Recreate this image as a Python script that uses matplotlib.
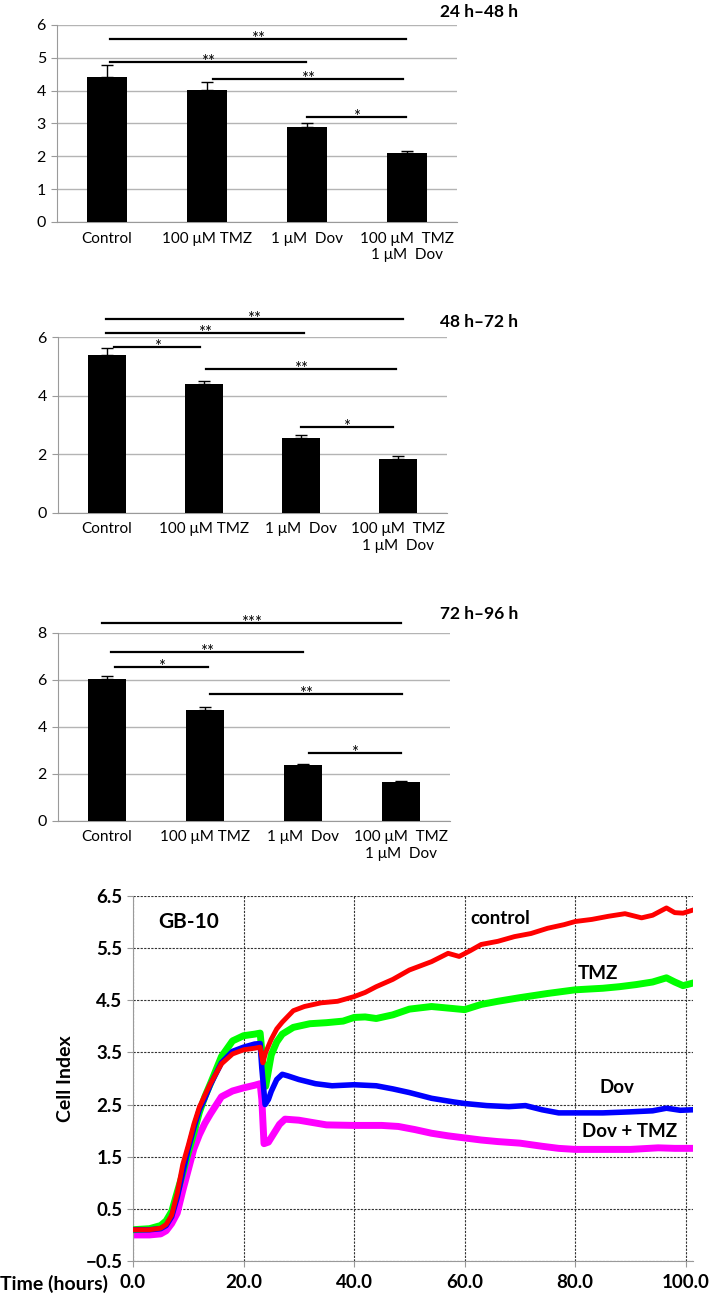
# -*- coding: utf-8 -*-
"""
GB-10 : croissance cellulaire (bar charts 24-96 h) + courbes Cell Index
"""

import matplotlib
matplotlib.use('Agg')
import matplotlib.pyplot as plt

plt.rcParams['font.family'] = ['Lato', 'DejaVu Sans']

# -----------------------------------------------------------
# Données : histogrammes
# -----------------------------------------------------------
categories = ['Control', '100 μM TMZ', '1 μM  Dov', '100 μM  TMZ\n1 μM  Dov']

titles = ['24 h–48 h', '48 h–72 h', '72 h–96 h']

vals_24_48 = [4.42, 4.02, 2.90, 2.10]
err_24_48 = [0.37, 0.25, 0.10, 0.07]
vals_48_72 = [5.40, 4.40, 2.55, 1.85]
err_48_72 = [0.25, 0.10, 0.10, 0.08]
vals_72_96 = [6.02, 4.72, 2.37, 1.63]
err_72_96 = [0.15, 0.10, 0.03, 0.04]

# comparaisons significatives : (début, fin, hauteur, étoiles)
sig_24_48 = [(0.03, 2.99, 5.57, '**'), (0.03, 1.99, 4.88, '**'),
             (1.06, 2.96, 4.35, '**'), (2.00, 2.99, 3.20, '*')]
sig_48_72 = [(-0.01, 3.05, 6.62, '**'), (-0.01, 2.03, 6.16, '**'),
             (0.08, 0.96, 5.66, '*'), (1.02, 2.98, 4.92, '**'),
             (2.00, 2.94, 2.92, '*')]
sig_72_96 = [(-0.05, 3.00, 8.41, '***'), (0.04, 2.00, 7.17, '**'),
             (0.08, 1.03, 6.55, '*'), (1.05, 3.01, 5.38, '**'),
             (2.06, 3.00, 2.87, '*')]

# -----------------------------------------------------------
# Données : Cell Index
# -----------------------------------------------------------
t_control = [0, 3, 5, 6, 7, 8, 9, 10, 11, 12, 13, 14, 16, 18, 20, 22, 23, 23.5, 24, 25,
             26, 27, 29, 31, 34, 37, 40, 42, 44, 47, 50, 54, 57, 59, 61, 63, 66, 69, 72,
             75, 78, 80, 83, 86, 89, 92, 94, 96.5, 98, 99.5, 101.3]
ci_control = [0.10, 0.10, 0.13, 0.20, 0.38, 0.80, 1.35, 1.72, 2.12, 2.45, 2.68, 2.90, 3.28,
              3.47, 3.55, 3.58, 3.60, 3.30, 3.50, 3.75, 3.95, 4.08, 4.30, 4.38, 4.45, 4.48,
              4.57, 4.65, 4.76, 4.90, 5.08, 5.24, 5.40, 5.34, 5.45, 5.57, 5.63, 5.72, 5.78,
              5.88, 5.95, 6.01, 6.05, 6.11, 6.16, 6.08, 6.13, 6.27, 6.18, 6.17, 6.23]

t_tmz = [0, 3, 5, 6, 7, 8, 9, 10, 11, 12, 13, 14, 16, 18, 20, 22, 23, 23.5, 24, 25, 26,
         27, 29, 32, 35, 38, 40, 42, 44, 47, 50, 54, 57, 60, 63, 66, 70, 75, 80, 85, 88,
         91, 94, 96.5, 98, 99.5, 101.3]
ci_tmz = [0.10, 0.12, 0.18, 0.27, 0.45, 0.82, 1.18, 1.58, 1.95, 2.35, 2.65, 2.90, 3.42,
          3.72, 3.82, 3.85, 3.87, 3.30, 2.85, 3.45, 3.70, 3.85, 3.98, 4.05, 4.07, 4.10,
          4.17, 4.18, 4.15, 4.22, 4.33, 4.38, 4.35, 4.32, 4.42, 4.48, 4.55, 4.63, 4.70,
          4.73, 4.76, 4.80, 4.85, 4.93, 4.85, 4.78, 4.83]

t_dov = [0, 3, 5, 6, 7, 8, 9, 10, 11, 12, 13, 14, 16, 18, 20, 22, 23, 23.3, 23.9, 24.5,
         25, 26, 27, 28, 30, 33, 36, 40, 44, 47, 50, 54, 58, 60, 64, 68, 71, 74, 77, 80,
         85, 90, 94, 96.5, 99, 101.3]
ci_dov = [0.10, 0.10, 0.12, 0.18, 0.35, 0.72, 1.20, 1.65, 2.05, 2.40, 2.62, 2.88, 3.30,
          3.52, 3.60, 3.66, 3.67, 3.20, 2.50, 2.60, 2.75, 2.98, 3.08, 3.05, 2.98, 2.90,
          2.86, 2.88, 2.86, 2.80, 2.73, 2.62, 2.55, 2.52, 2.48, 2.46, 2.48, 2.40, 2.34,
          2.34, 2.34, 2.36, 2.38, 2.43, 2.39, 2.40]

t_combo = [0, 3, 5, 6, 7, 8, 9, 10, 11, 12, 13, 14, 16, 18, 20, 22, 23, 23.3, 23.7, 24.5,
           25.5, 26.5, 27.5, 30, 35, 40, 45, 48, 51, 54, 57, 60, 63, 66, 70, 74, 77, 80,
           85, 90, 95, 98, 101.3]
ci_combo = [0.00, 0.00, 0.02, 0.08, 0.22, 0.42, 0.85, 1.25, 1.65, 1.92, 2.14, 2.32, 2.65,
            2.76, 2.82, 2.87, 2.90, 2.60, 1.75, 1.78, 1.95, 2.12, 2.22, 2.20, 2.11, 2.10,
            2.10, 2.08, 2.02, 1.95, 1.90, 1.86, 1.82, 1.79, 1.76, 1.70, 1.66, 1.64, 1.64,
            1.64, 1.67, 1.66, 1.66]

# -----------------------------------------------------------
# Figure
# -----------------------------------------------------------
fig = plt.figure(figsize=(7.09, 12.95), dpi=100)


def bar_panel(rect, vals, errs, sigs, ymax, yticks, bar_w):
    ax = fig.add_axes(rect)
    x = range(len(categories))
    ax.bar(x, vals, width=bar_w, color='black', zorder=3,
           yerr=[[0] * len(errs), errs], error_kw=dict(ecolor='black', elinewidth=1, capsize=4, capthick=1))
    ax.set_xlim(-0.5, 3.5)
    ax.set_ylim(0, ymax)
    ax.set_yticks(yticks)
    ax.set_xticks(list(x))
    ax.set_xticklabels(categories, fontsize=11)
    ax.tick_params(axis='x', length=0, pad=7)
    ax.tick_params(axis='y', length=4, color='#9a9a9a', labelsize=11.5, pad=4)
    ax.yaxis.grid(True, color='#b4b4b4', linewidth=1, zorder=0)
    ax.set_axisbelow(True)
    for s in ['top', 'right']:
        ax.spines[s].set_visible(False)
    for s in ['left', 'bottom']:
        ax.spines[s].set_color('#9a9a9a')
    for x0, x1, y, lab in sigs:
        ax.plot([x0, x1], [y, y], color='black', linewidth=1.6, clip_on=False, zorder=4)
        ax.annotate(lab, ((x0 + x1) / 2, y), xytext=(0, -3.5), textcoords='offset points',
                    ha='center', va='baseline', fontsize=12, annotation_clip=False)
    return ax


bar_panel([0.0804, 0.8286, 0.564, 0.1521], vals_24_48, err_24_48, sig_24_48, 6, range(0, 7), 0.4)
bar_panel([0.0818, 0.6041, 0.5487, 0.1354], vals_48_72, err_48_72, sig_48_72, 6, [0, 2, 4, 6], 0.39)
bar_panel([0.0818, 0.3663, 0.5529, 0.1452], vals_72_96, err_72_96, sig_72_96, 8, [0, 2, 4, 6, 8], 0.39)

for title, ypx in zip(titles, [12, 322, 614]):
    fig.text(518 / 709, 1 - ypx / 1295, title, ha='right', va='center',
             fontsize=12.5, fontweight='bold')

# -----------------------------------------------------------
# Courbes Cell Index
# -----------------------------------------------------------
ax4 = fig.add_axes([0.1876, 0.02625, 0.7898, 0.2819])
ax4.plot(t_control, ci_control, color='#ff0000', linewidth=3.5, zorder=5)
ax4.plot(t_tmz, ci_tmz, color='#00ff00', linewidth=5, zorder=3)
ax4.plot(t_dov, ci_dov, color='#0000ff', linewidth=4, zorder=4)
ax4.plot(t_combo, ci_combo, color='#ff00ff', linewidth=5, zorder=2)

ax4.set_xlim(0, 101.3)
ax4.set_ylim(-0.5, 6.5)
ax4.set_xticks([0, 20, 40, 60, 80, 100])
ax4.set_yticks([-0.5, 0.5, 1.5, 2.5, 3.5, 4.5, 5.5, 6.5])
ax4.xaxis.set_major_formatter(matplotlib.ticker.FormatStrFormatter('%.1f'))
ax4.yaxis.set_major_formatter(matplotlib.ticker.FuncFormatter(lambda v, p: f'{v:.1f}'.replace('-', '−')))
for lab in ax4.get_xticklabels() + ax4.get_yticklabels():
    lab.set_fontweight('bold')
ax4.tick_params(labelsize=13.5, length=4, color='#9a9a9a')
ax4.tick_params(axis='x', pad=5)
ax4.grid(True, color='#333333', linestyle=(0, (2, 1.2)), linewidth=0.8)
for s in ['top', 'right']:
    ax4.spines[s].set_visible(False)
for s in ['left', 'bottom']:
    ax4.spines[s].set_color('#9a9a9a')
ax4.set_ylabel('Cell Index', fontsize=14, fontweight='bold', labelpad=8)
fig.text(0.0, 1 - 1284 / 1295, 'Time (hours)', ha='left', va='center',
         fontsize=14, fontweight='bold')

ax4.text(10, 6.0, 'GB-10', ha='center', va='center', fontsize=15, fontweight='bold')
ax4.text(66.4, 6.06, 'control', ha='center', va='center', fontsize=13.5, fontweight='bold')
ax4.text(84.1, 5.01, 'TMZ', ha='center', va='center', fontsize=13.5, fontweight='bold')
ax4.text(87.5, 2.82, 'Dov', ha='center', va='center', fontsize=13.5, fontweight='bold')
ax4.text(89.9, 1.98, 'Dov + TMZ', ha='center', va='center', fontsize=13.5, fontweight='bold')

plt.savefig('out.png', dpi=100)
